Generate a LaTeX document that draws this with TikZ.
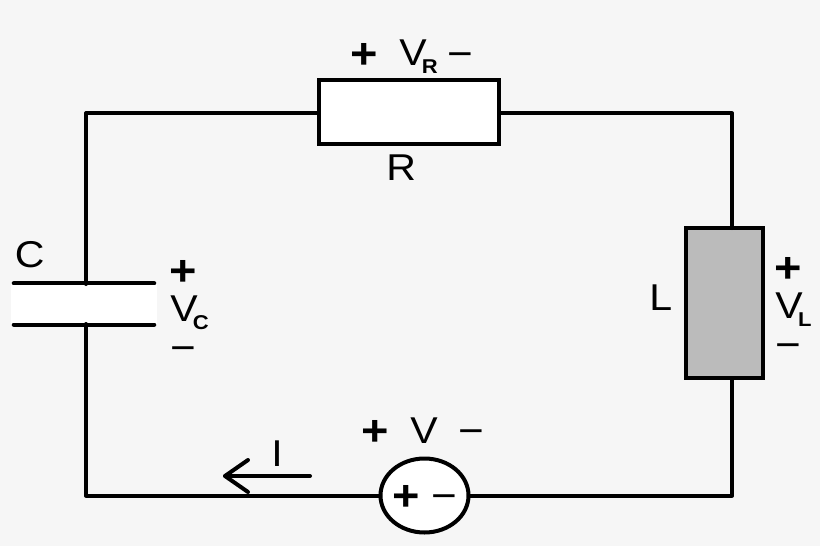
\documentclass[tikz,border=0pt]{standalone}
\usepackage{fontspec}
\setmainfont[FakeStretch=1.1]{Liberation Sans}
\usetikzlibrary{shapes.geometric}
\definecolor{pagegray}{HTML}{F6F6F6}
\definecolor{coilgray}{HTML}{BBBBBB}
\newcommand{\volt}[1]{V\kern-3.5pt\raisebox{-6pt}{\fontsize{15}{15}\selectfont\bfseries #1}}
\tikzset{
	wire/.style={line width=3pt,line cap=round,line join=round},
	part/.style={rectangle,draw,fill=white,line width=3pt,inner sep=0pt,minimum width=#1},
	lbl/.style={inner sep=0pt,anchor=base west,font=\fontsize{28}{28}\selectfont},
	plussign/.style={inner sep=0pt,anchor=base,yshift=-11.25pt,font=\fontsize{32}{32}\selectfont\bfseries},
	minussign/.style={inner sep=0pt,anchor=base,yshift=-10.5pt,font=\fontsize{30}{30}\selectfont},
}
\begin{document}
\begin{tikzpicture}[x=0.75pt,y=-0.75pt]
	\useasboundingbox[fill=pagegray] (0,0) rectangle (820,546);

	% Parts of the loop
	\node[part=135pt,minimum height=48pt] (resR) at (409,112) {};
	\node[part=57.75pt,minimum height=112.5pt,fill=coilgray] (indL) at (724.5,303) {};
	\node[ellipse,draw,fill=white,line width=3pt,inner sep=0pt,
		minimum width=66pt,minimum height=55.5pt] (srcV) at (424.5,495.5) {};
	\node[rectangle,fill=white,inner sep=0pt,minimum width=109.5pt,minimum height=30.4pt] (capC) at (84,304) {};

	% Wires
	\coordinate (capT) at (86,284);
	\coordinate (capB) at (86,324);
	\coordinate (indT) at (732,228);
	\coordinate (indB) at (732,378);
	\draw[wire,shorten <=2.25pt,shorten >=2.25pt] (capC.north west) -- (capC.north east);
	\draw[wire,shorten <=2.25pt,shorten >=2.25pt] (capC.south west) -- (capC.south east);
	\draw[wire] (capT) |- ([yshift=-1pt]resR.west);
	\draw[wire] ([yshift=-1pt]resR.east) -| (indT);
	\draw[wire] (indB) |- (srcV.east);
	\draw[wire] (srcV.west) -| (capB);

	% Current arrow
	\coordinate (arrS) at (310,476);
	\coordinate (arrE) at (225,476);
	\coordinate (barbA) at (248,460);
	\coordinate (barbB) at (248,492);
	\draw[wire] (arrS) -- (arrE);
	\draw[wire] (barbA) -- (arrE) -- (barbB);

	% Labels
	\node[plussign] (plusR) at (364,53) {+};
	\node[lbl] (voltR) at (399,65) {\volt{R}};
	\node[minussign] (minusR) at (460,53) {−};
	\node[lbl] (nameR) at (386,180) {R};
	\node[lbl] (nameC) at (14.5,267) {C};
	\node[plussign] (plusC) at (183,270) {+};
	\node[lbl] (voltC) at (170,321) {\volt{C}};
	\node[minussign] (minusC) at (183,347) {−};
	\node[lbl] (nameL) at (649,310) {L};
	\node[plussign] (plusL) at (788,267) {+};
	\node[lbl] (voltL) at (775,318) {\volt{L}};
	\node[minussign] (minusL) at (788,344) {−};
	\node[plussign] (plusV) at (375,430) {+};
	\node[lbl] (voltV) at (410,443) {V};
	\node[minussign] (minusV) at (471,430) {−};
	\node[plussign] (plusS) at (406,495) {+};
	\node[minussign] (minusS) at (444,495) {−};
	\node[lbl] (nameI) at (271,466) {I};
\end{tikzpicture}
\end{document}
